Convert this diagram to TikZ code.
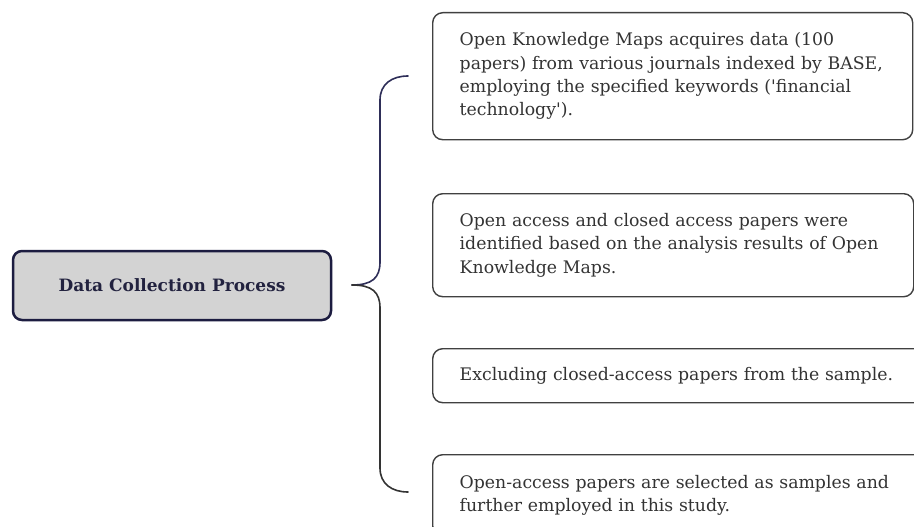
\documentclass[tikz,border=0pt]{standalone}
\usepackage{fontspec}
\setmainfont{DejaVu Serif}

\definecolor{navyline}{HTML}{1C1C40}
\definecolor{navytext}{HTML}{22223F}
\definecolor{boxgray}{HTML}{D3D3D3}
\definecolor{boxline}{HTML}{404040}
\definecolor{textgray}{HTML}{333333}
\definecolor{bracetop}{HTML}{2E2E58}
\definecolor{bracebot}{HTML}{333333}

\tikzset{
  mainbox/.style={draw=navyline, line width=2.5pt, fill=boxgray, rounded corners=9pt,
    minimum width=318pt, minimum height=69pt, text=navytext,
    font=\fontsize{17}{23}\selectfont\bfseries},
  stepbox/.style={draw=boxline, line width=1.4pt, rounded corners=10pt, anchor=north west,
    align=left, inner xsep=27pt, inner ysep=0pt, text=textgray,
    font=\fontsize{17.3}{23.3}\selectfont},
  bracepart/.style={line width=1.6pt, line cap=round},
}

\begin{document}
\begin{tikzpicture}[x=1pt, y=-1pt]
            \clip (0,0) rectangle (914,527);
            \fill[white] (0,0) rectangle (914,527);

            % Process node
            \node[mainbox] (proc) at (172,285.5) {Data Collection Process};

            % Step nodes
            \node[stepbox, text width=426pt, minimum height=127pt] (s1) at (432,12)
                {Open Knowledge Maps acquires data (100\\papers) from various journals indexed by BASE,\\employing the specified keywords (\textquotesingle financial\\technology\textquotesingle).};
            \node[stepbox, text width=427pt, minimum height=103pt] (s2) at (432,193)
                {Open access and closed access papers were\\identified based on the analysis results of Open\\Knowledge Maps.};
            \node[stepbox, text width=450pt, minimum height=54pt] (s3) at (432,348)
                {Excluding closed-access papers from the sample.};
            \node[stepbox, text width=450pt, minimum height=81pt] (s4) at (432,454)
                {Open-access papers are selected as samples and\\further employed in this study.};

            % Brace
            \coordinate (tip) at (352,285);
            \coordinate (top) at (408,76);
            \coordinate (bot) at (408,492);
            \draw[bracepart, bracetop] (tip) .. controls (372,285) and (380,278) .. (380,262)
                -- (380,100) .. controls (380,84) and (392,76) .. (top);
            \draw[bracepart, bracebot] (tip) .. controls (372,285) and (380,292) .. (380,308)
                -- (380,468) .. controls (380,484) and (392,492) .. (bot);
\end{tikzpicture}
\end{document}
